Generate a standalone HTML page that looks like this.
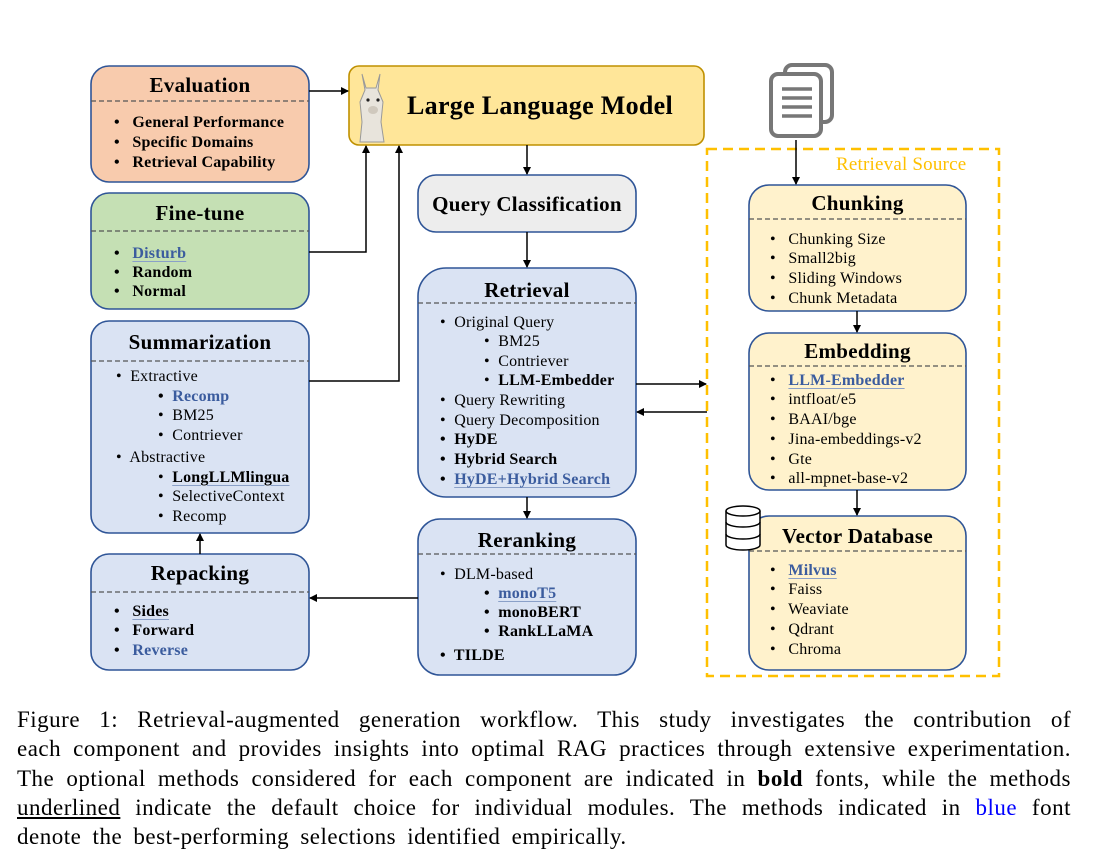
<!DOCTYPE html>
<html><head><meta charset="utf-8"><style>
body{margin:0;width:1099px;height:854px;background:#fff;position:relative;overflow:hidden;font-family:"Liberation Serif",serif;color:#000}
svg{position:absolute;left:0;top:0}
.t{position:absolute;white-space:nowrap;font-size:16px;line-height:20px;letter-spacing:0.2px}
.h{position:absolute;white-space:nowrap;font-size:21px;font-weight:bold;line-height:24px;text-align:center;letter-spacing:0.3px}
.b{font-weight:bold}
.u{color:#3b5c9e;}
.ul{text-decoration:underline;text-decoration-color:#8aa0c8;text-underline-offset:3px}
.cl{position:absolute;left:17px;width:1054px;font-size:23px;letter-spacing:0.5px;line-height:29px;text-align:justify;text-align-last:justify;white-space:nowrap}
</style></head><body>
<svg width="1099" height="854">
<defs><marker id="a" markerWidth="8" markerHeight="8" refX="7" refY="4" orient="auto" markerUnits="userSpaceOnUse"><path d="M0,0 L8,4 L0,8 z" fill="#000"/></marker></defs>
<rect x="707" y="149" width="292" height="527" fill="none" stroke="#ffc000" stroke-width="2.5" stroke-dasharray="10,6"/>
<g stroke="#2f5597" stroke-width="1.6">
<rect x="91" y="66" width="218" height="116" rx="18" fill="#f8cbad"/>
<rect x="91" y="193" width="218" height="116" rx="18" fill="#c5e0b4"/>
<rect x="91" y="321" width="218" height="212" rx="18" fill="#dae3f3"/>
<rect x="91" y="554" width="218" height="116" rx="18" fill="#dae3f3"/>
<rect x="418" y="175" width="218" height="57" rx="18" fill="#ededed"/>
<rect x="418" y="268" width="218" height="229" rx="28" fill="#dae3f3"/>
<rect x="418" y="519" width="218" height="156" rx="22" fill="#dae3f3"/>
<rect x="749" y="185" width="217" height="126" rx="20" fill="#fff2cc"/>
<rect x="749" y="333" width="217" height="157" rx="20" fill="#fff2cc"/>
<rect x="749" y="516" width="217" height="154" rx="20" fill="#fff2cc"/>
</g>
<rect x="349" y="66" width="355" height="79" rx="10" fill="#ffe699" stroke="#bf9000" stroke-width="1.6"/>
<g stroke="#555" stroke-width="1.3" stroke-dasharray="5,3">
<line x1="91" y1="101" x2="309" y2="101"/><line x1="91" y1="231" x2="309" y2="231"/>
<line x1="91" y1="361" x2="309" y2="361"/><line x1="91" y1="592" x2="309" y2="592"/>
<line x1="418" y1="303" x2="636" y2="303"/><line x1="418" y1="554" x2="636" y2="554"/>
<line x1="749" y1="219" x2="966" y2="219"/><line x1="749" y1="366" x2="966" y2="366"/>
<line x1="749" y1="551" x2="966" y2="551"/>
</g>
<g stroke="#000" stroke-width="1.5" fill="none">
<line x1="309" y1="91" x2="348" y2="91" marker-end="url(#a)"/>
<polyline points="309,252 366,252 366,146" marker-end="url(#a)"/>
<polyline points="309,381 399,381 399,146" marker-end="url(#a)"/>
<line x1="527" y1="145" x2="527" y2="174" marker-end="url(#a)"/>
<line x1="527" y1="232" x2="527" y2="267" marker-end="url(#a)"/>
<line x1="527" y1="497" x2="527" y2="518" marker-end="url(#a)"/>
<line x1="418" y1="598" x2="310" y2="598" marker-end="url(#a)"/>
<line x1="200" y1="554" x2="200" y2="534" marker-end="url(#a)"/>
<line x1="636" y1="384" x2="706" y2="384" marker-end="url(#a)"/>
<line x1="707" y1="412" x2="637" y2="412" marker-end="url(#a)"/>
<line x1="796" y1="140" x2="796" y2="184" marker-end="url(#a)"/>
<line x1="857" y1="311" x2="857" y2="332" marker-end="url(#a)"/>
<line x1="857" y1="490" x2="857" y2="515" marker-end="url(#a)"/>
</g>
<g stroke="#777" stroke-width="4" fill="#fff">
<rect x="785" y="65" width="47" height="57" rx="7"/>
<rect x="771" y="74" width="50" height="62" rx="7"/>
</g>
<g stroke="#777" stroke-width="3.5"><line x1="782" y1="89" x2="812" y2="89"/><line x1="782" y1="98" x2="812" y2="98"/><line x1="782" y1="107" x2="812" y2="107"/><line x1="782" y1="116" x2="812" y2="116"/></g>
<g stroke="#000" stroke-width="1.5" fill="#fff">
<path d="M726,511 v34 a17,5 0 0 0 34,0 v-34"/>
<ellipse cx="743" cy="511" rx="17" ry="5"/>
<path d="M726,522 a17,5 0 0 0 34,0 M726,534 a17,5 0 0 0 34,0" fill="none"/>
</g>
<g>
<path d="M362,74 l4,14 l10,0 l4,-14 l-2,16 l5,12 l-2,20 l3,20 l-24,0 l2,-20 l-2,-20 l5,-12z" fill="#e8e4dc" stroke="#999" stroke-width="1"/>
<circle cx="368" cy="100" r="1.6" fill="#222"/><circle cx="378" cy="100" r="1.6" fill="#222"/>
<ellipse cx="373" cy="110" rx="5" ry="4" fill="#cfc8bd"/>
</g>
</svg>
<div class="h" style="left:91px;width:218px;top:73px">Evaluation</div>
<div class="t b" style="left:114px;top:113px">•&nbsp;&nbsp; General Performance</div>
<div class="t b" style="left:114px;top:133px">•&nbsp;&nbsp; Specific Domains</div>
<div class="t b" style="left:114px;top:153px">•&nbsp;&nbsp; Retrieval Capability</div>
<div class="h" style="left:91px;width:218px;top:201px">Fine-tune</div>
<div class="t b" style="left:114px;top:244px">•&nbsp;&nbsp; <span class="u ul">Disturb</span></div>
<div class="t b" style="left:114px;top:263px">•&nbsp;&nbsp; Random</div>
<div class="t b" style="left:114px;top:282px">•&nbsp;&nbsp; Normal</div>
<div class="h" style="left:91px;width:218px;top:330px">Summarization</div>
<div class="t" style="left:116px;top:367px">•&nbsp; Extractive</div>
<div class="t b u" style="left:158px;top:387px"><span style="color:#000">•</span>&nbsp; Recomp</div>
<div class="t" style="left:158px;top:406px">•&nbsp; BM25</div>
<div class="t" style="left:158px;top:426px">•&nbsp; Contriever</div>
<div class="t" style="left:116px;top:448px">•&nbsp; Abstractive</div>
<div class="t" style="left:158px;top:468px">•&nbsp; <span class="b ul">LongLLMlingua</span></div>
<div class="t" style="left:158px;top:487px">•&nbsp; SelectiveContext</div>
<div class="t" style="left:158px;top:507px">•&nbsp; Recomp</div>
<div class="h" style="left:91px;width:218px;top:561px">Repacking</div>
<div class="t b" style="left:114px;top:602px">•&nbsp;&nbsp; <span class="ul">Sides</span></div>
<div class="t b" style="left:114px;top:621px">•&nbsp;&nbsp; Forward</div>
<div class="t b" style="left:114px;top:641px">•&nbsp;&nbsp; <span class="u">Reverse</span></div>
<div class="h" style="left:407px;top:91px;font-size:26px;line-height:30px">Large Language Model</div>
<div class="h" style="left:418px;width:218px;top:192px">Query Classification</div>
<div class="h" style="left:418px;width:218px;top:278px">Retrieval</div>
<div class="t" style="left:440px;top:313px">•&nbsp; Original Query</div>
<div class="t" style="left:484px;top:332px">•&nbsp; BM25</div>
<div class="t" style="left:484px;top:352px">•&nbsp; Contriever</div>
<div class="t" style="left:484px;top:371px">•&nbsp; <b>LLM-Embedder</b></div>
<div class="t" style="left:440px;top:391px">•&nbsp; Query Rewriting</div>
<div class="t" style="left:440px;top:411px">•&nbsp; Query Decomposition</div>
<div class="t b" style="left:440px;top:430px">•&nbsp; HyDE</div>
<div class="t b" style="left:440px;top:450px">•&nbsp; Hybrid Search</div>
<div class="t b" style="left:440px;top:470px">•&nbsp; <span class="u ul">HyDE+Hybrid Search</span></div>
<div class="h" style="left:418px;width:218px;top:528px">Reranking</div>
<div class="t" style="left:440px;top:565px">•&nbsp; DLM-based</div>
<div class="t b" style="left:484px;top:584px">•&nbsp; <span class="u ul">monoT5</span></div>
<div class="t b" style="left:484px;top:603px">•&nbsp; monoBERT</div>
<div class="t b" style="left:484px;top:622px">•&nbsp; RankLLaMA</div>
<div class="t b" style="left:440px;top:646px">•&nbsp; TILDE</div>
<div class="t" style="left:836px;top:155px;color:#ffc000;font-size:19px">Retrieval Source</div>
<div class="h" style="left:749px;width:217px;top:191px">Chunking</div>
<div class="t" style="left:770px;top:230px">•&nbsp;&nbsp; Chunking Size</div>
<div class="t" style="left:770px;top:249px">•&nbsp;&nbsp; Small2big</div>
<div class="t" style="left:770px;top:269px">•&nbsp;&nbsp; Sliding Windows</div>
<div class="t" style="left:770px;top:289px">•&nbsp;&nbsp; Chunk Metadata</div>
<div class="h" style="left:749px;width:217px;top:339px">Embedding</div>
<div class="t" style="left:770px;top:371px">•&nbsp;&nbsp; <span class="b u ul">LLM-Embedder</span></div>
<div class="t" style="left:770px;top:390px">•&nbsp;&nbsp; intfloat/e5</div>
<div class="t" style="left:770px;top:410px">•&nbsp;&nbsp; BAAI/bge</div>
<div class="t" style="left:770px;top:430px">•&nbsp;&nbsp; Jina-embeddings-v2</div>
<div class="t" style="left:770px;top:450px">•&nbsp;&nbsp; Gte</div>
<div class="t" style="left:770px;top:469px">•&nbsp;&nbsp; all-mpnet-base-v2</div>
<div class="h" style="left:749px;width:217px;top:524px">Vector Database</div>
<div class="t" style="left:770px;top:561px">•&nbsp;&nbsp; <span class="b u ul">Milvus</span></div>
<div class="t" style="left:770px;top:580px">•&nbsp;&nbsp; Faiss</div>
<div class="t" style="left:770px;top:600px">•&nbsp;&nbsp; Weaviate</div>
<div class="t" style="left:770px;top:620px">•&nbsp;&nbsp; Qdrant</div>
<div class="t" style="left:770px;top:640px">•&nbsp;&nbsp; Chroma</div>
<div class="cl" style="top:705px">Figure 1: Retrieval-augmented generation workflow. This study investigates the contribution of</div>
<div class="cl" style="top:734px">each component and provides insights into optimal RAG practices through extensive experimentation.</div>
<div class="cl" style="top:764px">The optional methods considered for each component are indicated in <b>bold</b> fonts, while the methods</div>
<div class="cl" style="top:793px"><u>underlined</u> indicate the default choice for individual modules. The methods indicated in <span style="color:#0000ff">blue</span> font</div>
<div class="cl" style="top:822px;text-align-last:left;word-spacing:5px">denote the best-performing selections identified empirically.</div>
</body></html>
